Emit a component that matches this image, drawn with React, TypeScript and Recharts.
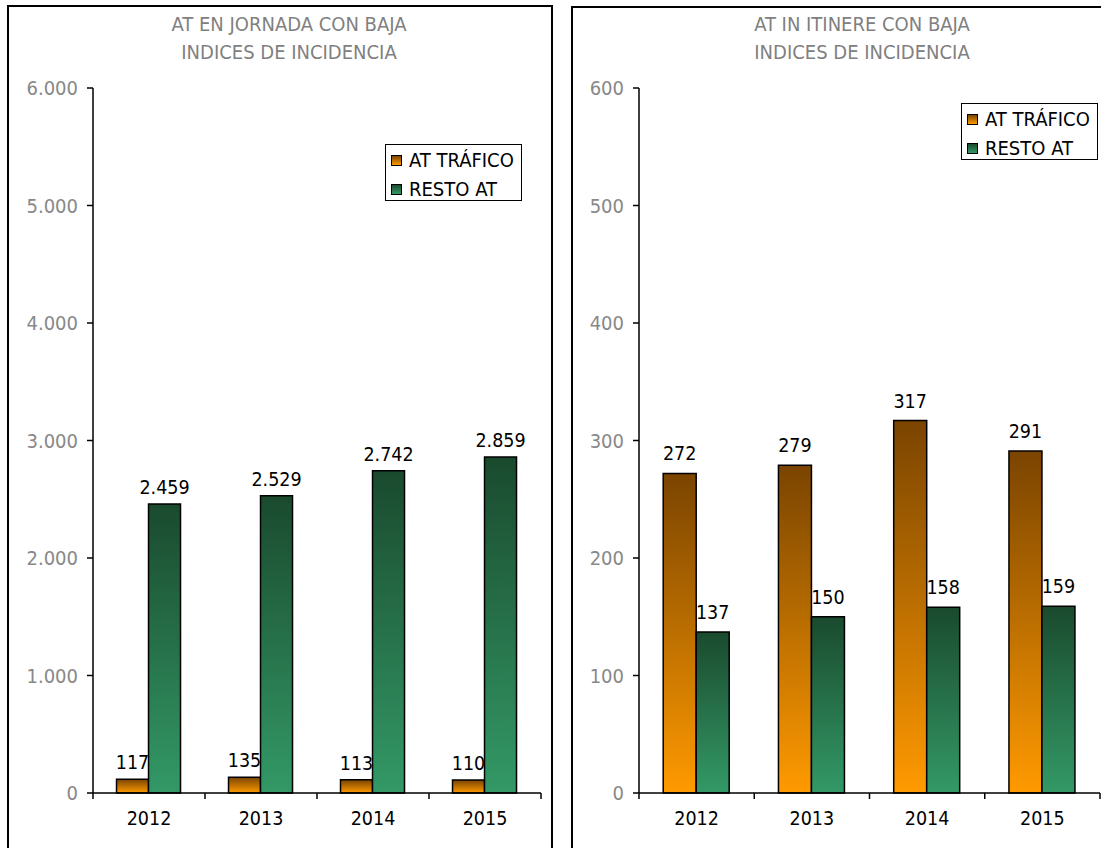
import React from 'react';
import { BarChart, Bar, XAxis, YAxis, LabelList } from 'recharts';

const years = ['2012', '2013', '2014', '2015'];
const jornadaTrafico = [117, 135, 113, 110];
const jornadaResto = [2459, 2529, 2742, 2859];
const itinereTrafico = [272, 279, 317, 291];
const itinereResto = [137, 150, 158, 159];
const jornadaTicks = [0, 1000, 2000, 3000, 4000, 5000, 6000];
const itinereTicks = [0, 100, 200, 300, 400, 500, 600];
const seriesNames = ['AT TRÁFICO', 'RESTO AT'];
const titleJornada = ['AT EN JORNADA CON BAJA', 'INDICES DE INCIDENCIA'];
const titleItinere = ['AT IN ITINERE CON BAJA', 'INDICES DE INCIDENCIA'];

const FONT = "'DejaVu Sans Condensed', 'DejaVu Sans', sans-serif";
const ORANGE_TOP = '#7a4400';
const ORANGE_BOT = '#ff9a00';
const GREEN_TOP = '#1a4a2e';
const GREEN_BOT = '#339966';

const fmt = (v: any) => String(v).replace(/\B(?=(\d{3})+(?!\d))/g, '.');

const jornadaData = years.map((y, i) => ({ year: y, trafico: jornadaTrafico[i], resto: jornadaResto[i] }));
const itinereData = years.map((y, i) => ({ year: y, trafico: itinereTrafico[i], resto: itinereResto[i] }));

const XTick = (props: any) => {
  const { x, y, payload, index } = props;
  const off = payload && payload.offset != null ? payload.offset : 0;
  const axisY = y - 19;
  const last = index === years.length - 1;
  return (
    <g>
      <line x1={x - off} x2={x - off} y1={axisY} y2={axisY + 6} stroke="#000" strokeWidth={1.5} />
      {last && <line x1={x + off} x2={x + off} y1={axisY} y2={axisY + 6} stroke="#000" strokeWidth={1.5} />}
      <text x={x} y={y - 1} dy="0.71em" textAnchor="middle" fill="#000" fontSize={19.5} fontFamily={FONT}>
        {payload.value}
      </text>
    </g>
  );
};

const Legend2 = ({ left, top }: { left: number; top: number }) => (
  <div
    style={{
      position: 'absolute', left, top, width: 135, height: 55, border: '1.5px solid #000',
      background: '#fff', fontFamily: FONT, fontSize: 20, color: '#000',
    }}
  >
    {seriesNames.map((n, i) => (
      <div key={n} style={{ position: 'absolute', left: 5, top: 3 + i * 29, height: 24, display: 'flex', alignItems: 'center', whiteSpace: 'nowrap' }}>
        <span
          style={{
            display: 'inline-block', width: 9, height: 9, border: '1px solid #000', marginRight: 7,
            background: `linear-gradient(${i === 0 ? ORANGE_TOP : GREEN_TOP}, ${i === 0 ? ORANGE_BOT : GREEN_BOT})`,
          }}
        />
        {n}
      </div>
    ))}
  </div>
);

const Title = ({ lines, cx }: { lines: string[]; cx: number }) => (
  <div
    style={{
      position: 'absolute', left: cx - 200, top: 10, width: 400, textAlign: 'center', color: '#808080',
      fontFamily: FONT, fontSize: 20, lineHeight: '28px',
    }}
  >
    {lines.map((l) => (<div key={l}>{l}</div>))}
  </div>
);

const Chart = ({ data, ticks, max, id, marginLeft, marginRight, labelOffset }: any) => (
  <BarChart
    width={560}
    height={848}
    data={data}
    margin={{ top: 88, right: marginRight, bottom: 25, left: marginLeft }}
    barGap={0}
    barCategoryGap="21%"
  >
    <defs>
      <linearGradient id={`o${id}`} x1="0" y1="0" x2="0" y2="1">
        <stop offset="0%" stopColor={ORANGE_TOP} />
        <stop offset="100%" stopColor={ORANGE_BOT} />
      </linearGradient>
      <linearGradient id={`g${id}`} x1="0" y1="0" x2="0" y2="1">
        <stop offset="0%" stopColor={GREEN_TOP} />
        <stop offset="100%" stopColor={GREEN_BOT} />
      </linearGradient>
    </defs>
    <XAxis
      dataKey="year"
      height={30}
      axisLine={{ stroke: '#000', strokeWidth: 1.5 }}
      tickLine={false}
      tickSize={6}
      tickMargin={13}
      interval={0}
      tick={<XTick />}
    />
    <YAxis
      width={60}
      domain={[0, max]}
      ticks={ticks}
      interval={0}
      tickFormatter={fmt}
      axisLine={{ stroke: '#000', strokeWidth: 1.5 }}
      tickLine={{ stroke: '#000', strokeWidth: 1.5 }}
      tickSize={6}
      tickMargin={9}
      tick={{ fill: '#888888', fontSize: 20, fontFamily: FONT }}
    />
    <Bar dataKey="trafico" name={seriesNames[0]} fill={`url(#o${id})`} stroke="#000" strokeWidth={1.5} isAnimationActive={false}>
      <LabelList dataKey="trafico" position="top" offset={labelOffset} formatter={fmt} fill="#000" fontSize={19.5} fontFamily={FONT} />
    </Bar>
    <Bar dataKey="resto" name={seriesNames[1]} fill={`url(#g${id})`} stroke="#000" strokeWidth={1.5} isAnimationActive={false}>
      <LabelList dataKey="resto" position="top" offset={labelOffset} formatter={fmt} fill="#000" fontSize={19.5} fontFamily={FONT} />
    </Bar>
  </BarChart>
);

export default function App() {
  return (
    <div style={{ position: 'absolute', left: 0, top: 0, width: 1101, height: 848, overflow: 'hidden', background: '#fff' }}>
      <div style={{ position: 'absolute', left: 7, top: 5, width: 542, height: 900, border: '2px solid #000' }} />
      <div style={{ position: 'absolute', left: 571, top: 6, width: 560, height: 900, border: '2px solid #000' }} />
      <div style={{ position: 'absolute', left: 0, top: 0 }}>
        <Chart data={jornadaData} ticks={jornadaTicks} max={6000} id="j" marginLeft={33} marginRight={19} labelOffset={10} />
      </div>
      <div style={{ position: 'absolute', left: 560, top: 0 }}>
        <Chart data={itinereData} ticks={itinereTicks} max={600} id="i" marginLeft={19} marginRight={20} labelOffset={13} />
      </div>
      <Title lines={titleJornada} cx={289} />
      <Title lines={titleItinere} cx={862} />
      <Legend2 left={385} top={144} />
      <Legend2 left={961} top={103} />
    </div>
  );
}
